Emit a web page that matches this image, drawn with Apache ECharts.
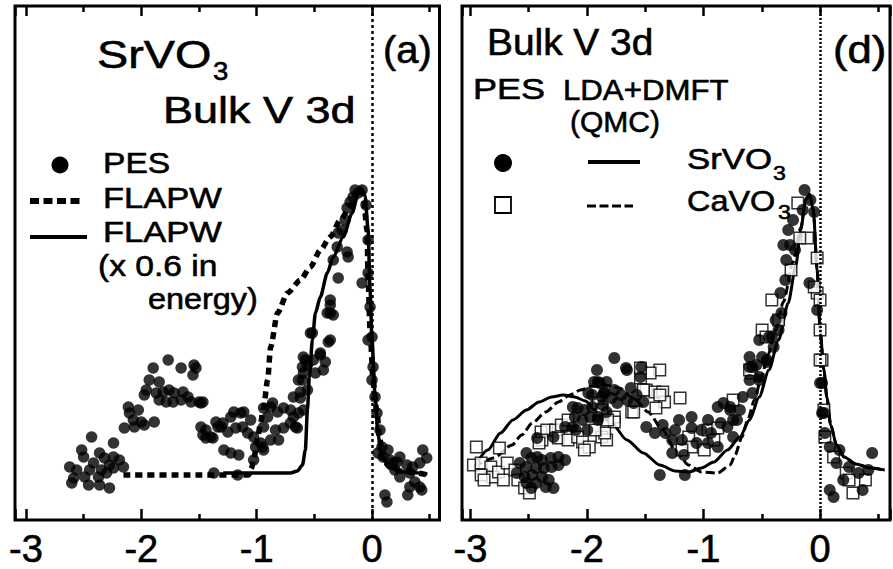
<!DOCTYPE html>
<html>
<head>
<meta charset="utf-8">
<script src="https://cdn.jsdelivr.net/npm/echarts@6/dist/echarts.min.js"></script>
<style>
  html, body { margin: 0; padding: 0; background: #fff; }
  #chart { width: 893px; height: 569px; }
</style>
</head>
<body>
<div id="chart"></div>
<script>
// Energy ticks that carry a label (eV, relative to E_F)
const energyTicks = [-3, -2, -1, 0];

// ---- Panel (a): SrVO3, bulk V 3d spectral weight (arb. units) ----
const pesA = [
  [-1.897,152],[-1.767,160],[-1.655,152],[-1.543,155],[-1.552,145],[-1.931,140],[-1.845,138],
  [-1.957,130],[-1.974,125],[-1.871,127],[-1.81,128],[-1.759,130],[-1.716,127],[-1.638,128],
  [-1.595,123],[-1.845,120],[-1.784,118],[-1.724,118],[-1.655,120],[-1.569,118],[-1.5,118],
  [-2.112,113],[-2.026,110],[-2.103,107],[-2.069,100],[-2.0,98],[-1.888,98],[-2.147,92],
  [-2.06,93],[-1.974,95],[-1.483,93],[-1.466,85],[-2.431,83],[-2.241,77],[-2.517,70],
  [-2.5,63],[-2.362,67],[-2.319,62],[-2.241,63],[-2.19,60],[-2.155,53],[-2.276,55],
  [-2.414,57],[-2.621,53],[-2.56,50],[-2.448,50],[-2.345,50],[-2.241,52],[-2.586,42],
  [-2.491,43],[-2.371,43],[-2.302,47],[-2.603,37],[-2.457,35],[-2.362,35],[-2.276,32],
  [-1.526,152],[-1.483,117],
  [-1.44,90],[-1.397,83],[-1.336,93],[-1.293,97],[-1.224,103],[-1.198,108],[-1.138,107],
  [-1.25,88],[-1.181,92],[-1.284,70],[-1.224,67],[-1.155,65],[-1.078,87],[-1.026,83],
  [-0.94,93],[-0.905,103],[-0.94,112],[-0.879,113],[-0.819,108],[-0.767,112],[-0.707,110],
  [-0.836,90],[-0.767,92],[-0.707,97],[-0.664,93],[-0.681,103],[-0.879,80],[-0.966,77],
  [-1.009,73],[-0.94,70],[-0.681,123],[-0.603,140],[-0.603,153],[-0.595,163],[-0.509,160],
  [-0.448,165],[-0.422,150],[-0.405,158],[-0.517,187],[-0.379,178],[-0.362,207],[-0.362,215],
  [-1.371,47],[-1.164,45],
  [-1.466,118],[-1.112,108],[-1.052,100],[-1.353,98],[-1.31,93],[-1.44,82],[-1.379,82],
  [-1.121,93],[-1.026,60],[-0.862,117],[-0.638,107],[-0.621,122],[-0.647,92],[-0.81,80],
  [-0.948,73],[-0.638,140],[-0.595,147],[-0.56,155],[-0.621,128],
  [-0.147,330],[-0.121,327],[-0.086,330],[-0.164,323],[-0.19,318],[-0.216,312],[-0.233,300],
  [-0.259,290],[-0.293,287],[-0.216,268],[-0.207,263],[-0.302,273],[-0.336,260],[-0.293,242],
  [-0.086,237],[-0.362,220],[-0.388,207],[-0.336,205],[-0.362,180],[-0.534,187],[-0.448,167],
  [-0.578,160],[-0.491,147],[-0.56,130],[-0.595,110],
  [-0.052,315],[-0.034,280],[-0.034,247],[-0.017,213],[-0.034,180],[0,183],[0.009,153],
  [0,140],[0.026,123],[0.043,107],[0.069,90],[0.086,73],
  [0.138,70],[0.095,63],[0.155,60],[0.216,58],[0.241,63],[0.302,55],[0.198,50],[0.241,43],
  [0.328,47],[0.44,70],[0.474,62],[0.414,57],[0.371,38],[0.328,33],[0.414,33],[0.112,25],
  [0.31,25],[0.431,30],[0.129,18],[0.353,53],[0.181,57],[0.052,67]
];
const flapwA = [
  [-2.155,45],[-1.5,45],[-1.07,45],[-1.045,52],[-1.026,60],[-0.995,80],[-0.966,97],
  [-0.94,113],[-0.905,140],[-0.879,173],[-0.819,207],[-0.733,227],[-0.621,240],[-0.534,253],
  [-0.448,270],[-0.362,283],[-0.276,300],[-0.19,313],[-0.13,327],[-0.1,331],[-0.078,327],
  [-0.043,290],[-0.034,240],[-0.017,190],[0.009,140],[0.043,107],[0.069,80],[0.095,60],
  [0.155,53],[0.241,49],[0.388,47],[0.483,45]
];
const flapwScaledA = [
  [-1.29,47],[-0.707,47],[-0.647,49],[-0.603,55],[-0.578,70],[-0.56,110],[-0.543,143],
  [-0.517,180],[-0.491,207],[-0.448,223],[-0.388,247],[-0.336,263],[-0.25,283],[-0.172,307],
  [-0.12,327],[-0.095,332],[-0.06,324],[-0.034,290],[-0.017,230],[0,180],[0.026,125],
  [0.052,85],[0.086,62],[0.155,52],[0.284,48],[0.48,46]
];

// ---- Panel (d): PES vs LDA+DMFT (QMC) ----
const pesSr = [
  [-1.914,150],[-1.939,138],[-1.889,137],[-1.955,125],[-1.856,127],[-2.121,113],[-2.022,110],
  [-2.104,103],[-1.972,103],[-2.187,93],[-2.096,90],[-1.997,90],[-2.287,83],[-2.427,82],
  [-2.519,67],[-2.477,62],[-2.427,63],[-2.386,60],[-2.311,62],[-2.245,63],[-2.187,60],
  [-2.577,57],[-2.519,53],[-2.436,52],[-2.37,52],[-2.303,53],[-2.245,55],[-2.602,47],
  [-2.535,43],[-2.469,45],[-2.386,43],[-2.328,40],[-2.519,37],[-2.436,37],[-2.353,33],
  [-2.287,32],[-2.477,32],
  [-1.765,162],[-1.665,152],[-1.657,150],[-1.533,153],[-1.541,143],[-1.906,138],[-1.831,138],
  [-1.624,132],[-1.765,130],[-1.848,127],[-1.707,125],[-1.79,122],[-1.657,120],[-1.574,125],
  [-1.864,115],[-1.74,117],[-1.599,117],[-1.516,118],[-1.906,103],[-1.831,108],
  [-1.988,127],[-1.872,123],[-1.955,113],[-1.906,100],[-2.038,100],[-2.121,93],[-2.08,112],
  [-1.491,93],[-1.417,87],[-1.35,95],[-1.326,87],[-1.268,80],[-1.243,90],[-1.21,100],
  [-1.185,80],[-1.268,67],[-1.168,65],[-1.102,103],[-1.102,92],[-1.06,77],[-1.019,90],
  [-0.961,100],[-0.878,113],[-0.829,117],[-0.771,110],[-0.936,87],[-0.853,97],[-0.795,93],
  [-0.713,100],[-0.961,77],[-0.878,73],[-0.746,83],[-1.375,45],[-1.16,45],
  [-0.133,330],[-0.083,320],[-0.05,308],[-0.149,310],[-0.232,300],[-0.273,290],[-0.315,275],
  [-0.257,275],[-0.215,270],[-0.29,260],[-0.298,240],[-0.34,227],[-0.331,207],[-0.381,200],
  [-0.439,183],[-0.398,173],[-0.497,163],[-0.547,155],[-0.456,158],[-0.605,153],[-0.522,143],
  [-0.605,140],[-0.663,123],[-0.58,127],[-0.688,110],[-0.771,113],[-0.746,100],[-0.091,237],
  [-0.025,210],[0.017,137],[0.033,107],[0.041,87],[0.083,73],[0.166,70],[0.141,57],
  [0.249,53],[0.331,47],[0.414,50],[0.447,67],[0.199,40],[0.365,30],[0.116,23],
  [-0.522,180],[-0.605,163],[-0.58,153],[-0.522,140],[-0.456,160],[-0.414,183],[-0.356,190],
  [0.083,30],[0,137],[0.017,107]
];
const pesCa = [
  [-2.949,73],[-2.751,72],[-2.974,55],[-2.908,57],[-2.825,53],[-2.908,45],[-2.809,43],
  [-2.759,48],[-2.717,40],[-2.883,40],[-2.684,57],[-2.618,50],[-2.593,40],[-2.535,32],
  [-2.494,27],[-2.394,88],[-2.345,90],[-2.27,90],[-2.22,95],[-2.162,100],[-2.245,82],
  [-2.162,80],[-2.08,83],[-2.038,78],[-1.98,73],[-2.022,70],[-2.386,80],[-2.411,77],
  [-1.375,150],[-1.458,147],[-1.541,142],[-1.491,130],[-1.417,128],[-1.35,128],[-1.334,118],
  [-1.408,112],[-1.201,122],[-1.906,117],[-1.872,110],[-1.765,103],[-1.765,98],[-1.872,83],
  [-1.831,80],[-1.616,108],[-1.127,83],[-1.102,73],[-1.185,70],[-0.961,90],[-0.911,80],
  [-0.878,92],[-0.994,70],
  [-1.823,100],[-1.848,87],[-1.931,90],[-1.599,108],[-1.375,125],[-1.516,130],[-1.541,152],
  [-0.191,317],[-0.108,282],[-0.174,282],[-0.025,262],[-0.249,250],[-0.025,227],[-0.414,220],
  [0,190],[-0.497,190],[-0.464,183],[0.017,160],[-0.588,147],[0.033,110],[0.041,83],
  [0.116,63],[0.224,47],[0.389,40],[0.282,27],[-0.746,120],[-0.605,150],[-0.356,200],
  [0,220],[-0.05,233],[0.249,40],[0,160]
];
const dmftSr = [
  [-2.966,53],[-2.85,70],[-2.742,87],[-2.635,100],[-2.519,110],[-2.411,118],[-2.303,123],
  [-2.204,125],[-2.104,123],[-2.013,119],[-1.93,110],[-1.79,97],[-1.657,80],[-1.516,67],
  [-1.375,55],[-1.243,49],[-1.127,48],[-1.019,52],[-0.911,58],[-0.795,70],[-0.688,83],
  [-0.605,100],[-0.522,123],[-0.439,150],[-0.356,180],[-0.273,217],[-0.207,255],[-0.166,290],
  [-0.124,320],[-0.091,326],[-0.058,310],[-0.025,250],[0,190],[0.033,150],[0.058,123],
  [0.091,95],[0.141,75],[0.207,63],[0.307,56],[0.431,52],[0.555,50]
];
const dmftCa = [
  [-2.966,53],[-2.8,62],[-2.643,75],[-2.56,85],[-2.469,97],[-2.353,108],[-2.245,118],
  [-2.146,125],[-2.055,130],[-1.955,134],[-1.848,135],[-1.723,132],[-1.599,122],[-1.475,108],
  [-1.35,90],[-1.243,70],[-1.127,55],[-1.019,48],[-0.878,47],[-0.771,55],[-0.729,65],
  [-0.671,83],[-0.621,100],[-0.563,120],[-0.505,142],[-0.447,165],[-0.381,190],[-0.315,218],
  [-0.232,258],[-0.166,292],[-0.124,320],[-0.091,326],[-0.058,310],[-0.025,250],[0,190],
  [0.033,150],[0.058,123],[0.091,95],[0.141,75],[0.207,63],[0.307,56],[0.431,52],[0.555,50]
];

const FONT = '"Liberation Sans", Arial, Helvetica, sans-serif';
const INK = '#000';

function energyAxes(gridIndex, min, max) {
  const tick = { show: true, inside: true, length: 11, lineStyle: { color: INK, width: 2.5 } };
  const minor = { show: true, splitNumber: 2, length: 6, lineStyle: { color: INK, width: 2.5 } };
  const base = {
    type: 'value', gridIndex, min, max, splitNumber: 4,
    axisLine: { show: false }, splitLine: { show: false }, minorSplitLine: { show: false },
    minorTick: minor
  };
  return [
    Object.assign({}, base, {
      position: 'bottom', axisTick: tick,
      axisLabel: {
        show: true, margin: 10, fontSize: 38, color: INK, fontFamily: FONT,
        textBorderColor: INK, textBorderWidth: 0.6,
        formatter: v => (energyTicks.indexOf(v) >= 0 ? String(v) : '')
      }
    }),
    Object.assign({}, base, {
      position: 'top', axisLabel: { show: false },
      axisTick: Object.assign({}, tick, { length: 10 })
    })
  ];
}

function intensityAxis(gridIndex) {
  return { type: 'value', gridIndex, min: 0, max: 514, show: false };
}

function zeroLine(dash) {
  return {
    silent: true, symbol: 'none', animation: false,
    label: { show: false },
    lineStyle: { color: INK, width: 2.5, type: dash },
    data: [{ xAxis: 0 }]
  };
}

function curve(data, xi, yi, width, dash) {
  return {
    type: 'line', data, xAxisIndex: xi, yAxisIndex: yi, showSymbol: false,
    smooth: 0.25, smoothMonotone: 'x', z: 2,
    lineStyle: { color: INK, width, type: dash || 'solid', cap: 'butt' }
  };
}

function text(str, x, y, size, sx) {
  return {
    type: 'text', x, y, scaleX: sx || 1, silent: true, z: 20,
    style: {
      text: str, fontSize: size, fontFamily: FONT, fill: INK,
      stroke: INK, lineWidth: 0.6,
      textAlign: 'left', textVerticalAlign: 'middle'
    }
  };
}

const chart = echarts.init(document.getElementById('chart'), null, { renderer: 'svg' });

chart.setOption({
  animation: false,
  backgroundColor: '#fff',
  grid: [
    { left: 15, top: 6, width: 424.5, height: 514, show: true, borderColor: INK, borderWidth: 3 },
    { left: 462, top: 6, width: 444, height: 514, show: true, borderColor: INK, borderWidth: 3 }
  ],
  xAxis: energyAxes(0, -3.095, 0.585).concat(energyAxes(1, -3.072, 0.6)),
  yAxis: [intensityAxis(0), intensityAxis(1)],
  series: [
    Object.assign(curve(flapwA, 0, 0, 5.5, [7, 5]), { markLine: zeroLine([3, 3]) }),
    curve(flapwScaledA, 0, 0, 3.5),
    {
      type: 'scatter', data: pesA, xAxisIndex: 0, yAxisIndex: 0, z: 3,
      symbol: 'circle', symbolSize: 11.5, itemStyle: { color: INK }
    },
    Object.assign(curve(dmftSr, 2, 1, 3), { markLine: zeroLine([2, 2]) }),
    curve(dmftCa, 2, 1, 3, [9, 4]),
    {
      type: 'scatter', data: pesCa, xAxisIndex: 2, yAxisIndex: 1, z: 3,
      symbol: 'rect', symbolSize: 11.5,
      itemStyle: { color: '#fff', borderColor: INK, borderWidth: 1.5 }
    },
    {
      type: 'scatter', data: pesSr, xAxisIndex: 2, yAxisIndex: 1, z: 4,
      symbol: 'circle', symbolSize: 12, itemStyle: { color: INK }
    }
  ],
  graphic: [
    // panel (a) headings
    text('SrVO', 97, 54, 39, 1.2),
    text('3', 213, 71, 25, 1.1),
    text('Bulk V 3d', 163, 110, 37.5, 1.2),
    text('(a)', 383, 50, 38, 1.05),
    // panel (a) key
    { type: 'circle', silent: true, z: 20, shape: { cx: 60, cy: 165, r: 8.5 }, style: { fill: INK } },
    text('PES', 103, 163, 30, 1.12),
    { type: 'line', silent: true, z: 20, shape: { x1: 30, y1: 201, x2: 83, y2: 201 },
      style: { stroke: INK, lineWidth: 6, lineDash: [9, 4.5] } },
    text('FLAPW', 103, 198, 30, 1.15),
    { type: 'line', silent: true, z: 20, shape: { x1: 30, y1: 237, x2: 87, y2: 237 },
      style: { stroke: INK, lineWidth: 4 } },
    text('FLAPW', 103, 232, 30, 1.15),
    text('(x 0.6 in', 98, 266, 30, 1.12),
    text('energy)', 148, 299, 30, 1.08),
    // panel (d) headings
    text('Bulk V 3d', 487, 42, 37, 1.05),
    text('(d)', 833, 50, 38, 1.15),
    text('PES', 473, 89, 30, 1.2),
    text('LDA+DMFT', 563, 89, 30, 1.04),
    text('(QMC)', 570, 121, 30, 1.0),
    // panel (d) key
    { type: 'circle', silent: true, z: 20, shape: { cx: 503, cy: 163, r: 9 }, style: { fill: INK } },
    { type: 'line', silent: true, z: 20, shape: { x1: 588, y1: 162, x2: 640, y2: 162 },
      style: { stroke: INK, lineWidth: 4 } },
    text('SrVO', 687, 159, 30, 1.16),
    text('3', 773, 173, 21, 1.1),
    { type: 'rect', silent: true, z: 20, shape: { x: 495, y: 197, width: 16, height: 16 },
      style: { fill: '#fff', stroke: INK, lineWidth: 1.8 } },
    { type: 'line', silent: true, z: 20, shape: { x1: 587, y1: 206, x2: 633, y2: 206 },
      style: { stroke: INK, lineWidth: 3, lineDash: [9, 3.5] } },
    text('CaVO', 687, 201, 30, 1.08),
    text('3', 778, 212, 21, 1.1)
  ]
});
</script>
</body>
</html>
